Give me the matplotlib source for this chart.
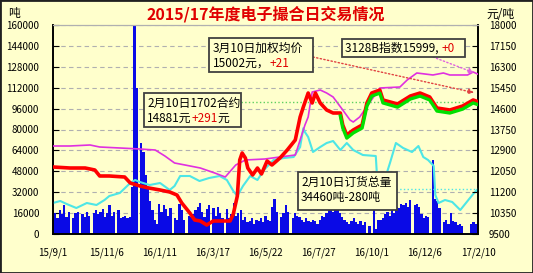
import pandas as pd
import matplotlib
matplotlib.use('Agg')
import matplotlib.pyplot as plt
import matplotlib.dates as mdates
from matplotlib.patches import Rectangle

plt.rcParams['font.family'] = ['Noto Sans CJK SC', 'DejaVu Sans']

W, H = 533, 273
BG = '#FFFFCC'

# 日成交量 (千吨), 从15/9/1到17/2/10等间距
vol_a = [14, 16, 12, 18, 15, 22, 13, 17, 0, 12, 16, 17, 0, 15, 13, 17, 14, 0,
         16, 18, 15, 17, 19, 13, 16, 22, 14, 17, 0, 18, 12, 13, 14, 12, 13]
vol_b = [36, 160, 112, 0, 70, 63, 45, 36, 25, 18]
vol_c = [11, 8, 23, 17, 22, 19, 14, 20, 0, 12, 11, 23, 18, 11, 0, 14, 13, 15,
         18, 21, 24, 17, 13, 19, 22, 0, 20, 14, 21, 16, 12, 0, 19, 12, 15, 24]
vol_d = [14, 16, 18, 11, 13, 9, 10, 12, 8, 11, 10, 12, 9, 14, 11, 10, 21, 27,
         17, 0, 13, 16, 22, 17, 0, 12, 16, 14]
vol_e = [13, 11, 9, 12, 10, 9, 11, 10, 8, 11, 14, 13, 16, 18, 20, 17, 21, 19,
         16, 13, 11, 9, 8, 10, 12, 9, 8, 10, 7, 9, 0, 6, 0, 24, 4, 11]
vol_f = [11, 12, 15, 17, 14, 18, 16, 21, 20, 23, 22, 24, 21, 26, 0, 22, 23, 21,
         15, 12, 14, 13, 0, 57, 27, 25, 20, 0, 9, 11, 8, 16, 10, 9, 7, 8, 6, 0,
         0, 0, 8, 9, 8, 9]
volume = vol_a + vol_b + vol_c + vol_d + vol_e + vol_f

# 1702合约 (元/吨)
red_dates = ['2015-09-01', '2015-09-22', '2015-10-11', '2015-10-23', '2015-10-29',
             '2015-11-10', '2015-11-29', '2015-12-06', '2015-12-18', '2015-12-29',
             '2016-01-12', '2016-01-24', '2016-02-02', '2016-02-08', '2016-02-18',
             '2016-02-24', '2016-03-02', '2016-03-10', '2016-03-18', '2016-03-30',
             '2016-04-08', '2016-04-12', '2016-04-17', '2016-04-20', '2016-04-23',
             '2016-04-27', '2016-04-30', '2016-05-06', '2016-05-12', '2016-05-17',
             '2016-05-24', '2016-05-30', '2016-06-09', '2016-06-18', '2016-06-28',
             '2016-07-04', '2016-07-08', '2016-07-14', '2016-07-19', '2016-07-23',
             '2016-07-29', '2016-08-06', '2016-08-14', '2016-08-23', '2016-08-26',
             '2016-08-31', '2016-09-08', '2016-09-19', '2016-09-25', '2016-10-01',
             '2016-10-11', '2016-10-15', '2016-11-02', '2016-11-18', '2016-11-30',
             '2016-12-12', '2016-12-21', '2017-01-06', '2017-01-22', '2017-02-04',
             '2017-02-10']
red_price = [12225, 12184, 12184, 12103, 11859, 11859, 11818, 11574, 11452, 11371,
             11290, 11208, 11086, 10761, 10354, 10069, 10029, 9866, 10029, 10029,
             10029, 10313, 11045, 12510, 12794, 12591, 12184, 11900, 12184, 11940,
             12469, 12306, 12591, 12916, 13323, 14258, 14665, 15234, 14828, 15234,
             14828, 14543, 14421, 14421, 13933, 13526, 13730, 13933, 14828, 15234,
             15356, 14950, 14787, 15112, 15234, 15072, 14624, 14543, 14706, 14950,
             14881]

green_dates = red_dates[43:]
green_price = [14300, 13810, 13400, 13610, 13810, 14700, 15110, 15230, 14830, 14660,
               14990, 15110, 14950, 14500, 14420, 14580, 14830, 14760]

# 3128B指数 (元/吨)
pink_dates = ['2015-09-01', '2015-09-22', '2015-10-17', '2015-10-29', '2015-11-23',
              '2015-12-18', '2016-01-06', '2016-01-18', '2016-01-30', '2016-02-12',
              '2016-03-02', '2016-03-20', '2016-04-02', '2016-04-15', '2016-04-27',
              '2016-05-21', '2016-06-09', '2016-06-28', '2016-07-04', '2016-07-10',
              '2016-07-14', '2016-07-19', '2016-07-29', '2016-08-06', '2016-08-14',
              '2016-08-26', '2016-09-04', '2016-09-08', '2016-09-16', '2016-10-11',
              '2016-11-05', '2016-11-14', '2016-11-26', '2016-12-16', '2016-12-29',
              '2017-01-06', '2017-01-28', '2017-02-04', '2017-02-10']
pink_price = [13079, 13079, 13120, 13038, 12998, 12957, 12916, 12672, 12388, 12306,
              12184, 11980, 11818, 12306, 12510, 12550, 12632, 12713, 13323, 13933,
              14258, 15275, 15356, 15234, 15072, 14543, 14136, 14055, 14258, 15438,
              15478, 15763, 16048, 15967, 16048, 15967, 15967, 16088, 15999]

# 订货总量 (吨)
cyan_dates = ['2015-09-01', '2015-09-10', '2015-09-18', '2015-09-30', '2015-10-13',
              '2015-10-25', '2015-11-04', '2015-11-10', '2015-11-23', '2015-12-06',
              '2015-12-12', '2015-12-18', '2015-12-30', '2016-01-12', '2016-01-24',
              '2016-01-30', '2016-02-06', '2016-02-18', '2016-03-01', '2016-03-13',
              '2016-03-26', '2016-04-04', '2016-04-12', '2016-04-17', '2016-04-24',
              '2016-05-03', '2016-05-12', '2016-05-20', '2016-05-26', '2016-06-01',
              '2016-06-14', '2016-06-26', '2016-07-04', '2016-07-08', '2016-07-10',
              '2016-07-14', '2016-07-20', '2016-07-29', '2016-08-06', '2016-08-14',
              '2016-08-23', '2016-08-31', '2016-09-08', '2016-09-20', '2016-10-06',
              '2016-10-09', '2016-10-11', '2016-10-17', '2016-10-24', '2016-10-31',
              '2016-11-09', '2016-11-20', '2016-11-28', '2016-12-04', '2016-12-10',
              '2016-12-17', '2016-12-19', '2016-12-23', '2016-12-31', '2017-01-09',
              '2017-01-14', '2017-01-19', '2017-01-26', '2017-02-04', '2017-02-10']
cyan_vol = [23730, 25260, 22970, 19900, 23730, 22200, 26030, 29090, 31390, 39040,
            41340, 39810, 37510, 39040, 33680, 36740, 44400, 44400, 40570, 42870,
            44400, 41340, 32920, 29090, 36740, 44400, 41340, 48990, 52820, 56650,
            58180, 58940, 66600, 81000, 78000, 74250, 62770, 66600, 69660, 71190,
            64300, 69660, 64300, 60470, 59710, 29850, 22970, 41340, 55120, 69660,
            65830, 62770, 67360, 58940, 56650, 52050, 29850, 23730, 26030, 24500,
            21430, 18370, 23730, 30620, 34460]

xtick_dates = ['2015-09-01', '2015-11-06', '2016-01-11', '2016-03-17', '2016-05-22',
               '2016-07-27', '2016-10-01', '2016-12-06', '2017-02-10']
xtick_labels = ['15/9/1', '15/11/6', '16/1/11', '16/3/17', '16/5/22', '16/7/27',
                '16/10/1', '16/12/6', '17/2/10']
left_ticks = list(range(0, 160001, 16000))
right_ticks = list(range(9500, 18001, 850))


def d(s):
    return mdates.date2num(pd.Timestamp(s))


def px(x, y):
    return x / W, 1 - y / H


def rich_text(fig, x, y, parts, size=8.5):
    r = fig.canvas.get_renderer()
    fx, fy = px(x, y)
    for s, c in parts:
        t = fig.text(fx, fy, s, color=c, fontsize=size, va='center', ha='left', zorder=10)
        fx += t.get_window_extent(r).width / W


def box(fig, x0, y0, x1, y1):
    bx, by = px(x0, y1)
    fig.patches.append(Rectangle((bx, by), (x1 - x0) / W, (y1 - y0) / H,
                                 transform=fig.transFigure, facecolor=BG,
                                 edgecolor='#404040', lw=1.3, zorder=5))


fig = plt.figure(figsize=(W / 100, H / 100), dpi=100, facecolor=BG)
ax = fig.add_axes([53 / W, 1 - 234 / H, 425 / W, 209 / H])
ax.set_facecolor(BG)
ax2 = ax.twinx()

x0, x1 = d('2015-09-01'), d('2017-02-10')
bar_x = pd.date_range('2015-09-01', '2017-02-10', periods=len(volume))
ax.bar(bar_x, [v * 1000 for v in volume], width=(x1 - x0) / len(volume),
       color='#0A0AE6', edgecolor='none', zorder=2)
ax.plot(pd.to_datetime(cyan_dates), cyan_vol, color='#4DE6E6', lw=1.5, zorder=3)
ax.hlines(34460, d('2016-10-31'), x1, colors='#4DE6E6', linestyles=':', lw=1, zorder=3)

ax2.plot(pd.to_datetime(pink_dates), pink_price, color='#E030E0', lw=1.2, zorder=3)
ax2.plot(pd.to_datetime(red_dates), red_price, color='#FF0000', lw=2.6, zorder=4)
ax2.plot(pd.to_datetime(green_dates), green_price, color='#00E000', lw=2.4, zorder=5)
ax2.hlines(14881, d('2016-04-22'), x1, colors='#60D060', linestyles=':', lw=1, zorder=3)

ax.set_xlim(x0, x1)
ax.set_ylim(0, 160000)
ax2.set_ylim(9500, 18000)
ax.set_yticks(left_ticks)
ax.set_yticklabels([str(v) for v in left_ticks])
ax2.set_yticks(right_ticks)
ax2.set_yticklabels([str(v) for v in right_ticks])
ax.set_xticks([d(s) for s in xtick_dates])
ax.set_xticklabels(xtick_labels)
ax.grid(axis='y', color='#B0B0B0', ls=(0, (4, 3)), lw=0.8, zorder=1)
ax.set_axisbelow(True)

ax.tick_params(axis='y', direction='in', length=4, labelsize=7, pad=10, colors='black')
ax2.tick_params(axis='y', direction='in', length=4, labelsize=7, pad=8)
ax.tick_params(axis='x', length=0, labelsize=7, pad=10)
for a in (ax, ax2):
    a.spines['top'].set_color('#B0B0B0')
    a.spines['top'].set_linewidth(0.8)
    a.spines['left'].set_linewidth(1.2)
    a.spines['right'].set_linewidth(1.2)
    a.spines['bottom'].set_linewidth(1.2)

# 虚线箭头
ax2.annotate('', xy=(d('2017-02-05'), 15250), xytext=px(313, 57),
             textcoords='figure fraction',
             arrowprops=dict(arrowstyle='-|>', ls=':', color='#E04040', lw=1,
                             mutation_scale=8, shrinkA=0, shrinkB=0))
ax2.annotate('', xy=(d('2017-02-05'), 16060), xytext=px(433, 57),
             textcoords='figure fraction',
             arrowprops=dict(arrowstyle='-|>', ls=':', color='#E060E0', lw=1,
                             mutation_scale=8, shrinkA=0, shrinkB=0))

fig.text(*px(266, 14), '2015/17年度电子撮合日交易情况', color='#E00000',
         fontsize=11.5, fontweight='bold', ha='center', va='center')
fig.text(*px(8, 14), '吨', fontsize=8.5, ha='left', va='center')
fig.text(*px(486, 15), '元/吨', fontsize=8.5, ha='left', va='center')

box(fig, 209, 38, 313, 72)
rich_text(fig, 213, 48, [('3月10日加权均价', 'black')])
rich_text(fig, 213, 63, [('15002元，', 'black'), ('+21', '#E00000')])
box(fig, 342, 39, 465, 57)
rich_text(fig, 345, 48, [('3128B指数15999, ', 'black'), ('+0', '#E00000')])
box(fig, 144, 93, 241, 127)
rich_text(fig, 147, 103, [('2月10日1702合约', 'black')])
rich_text(fig, 147, 118, [('14881元', 'black'), ('+291', '#E00000'), ('元', 'black')])
box(fig, 298, 172, 397, 210)
rich_text(fig, 301, 182, [('2月10日订货总量', 'black')])
rich_text(fig, 301, 197, [('34460吨-280吨', 'black')])

fig.patches.append(Rectangle((0, 0), 1, 1, transform=fig.transFigure, fill=False,
                             edgecolor='#202020', lw=2, zorder=20))

fig.savefig('out.png', dpi=100, facecolor=BG)
